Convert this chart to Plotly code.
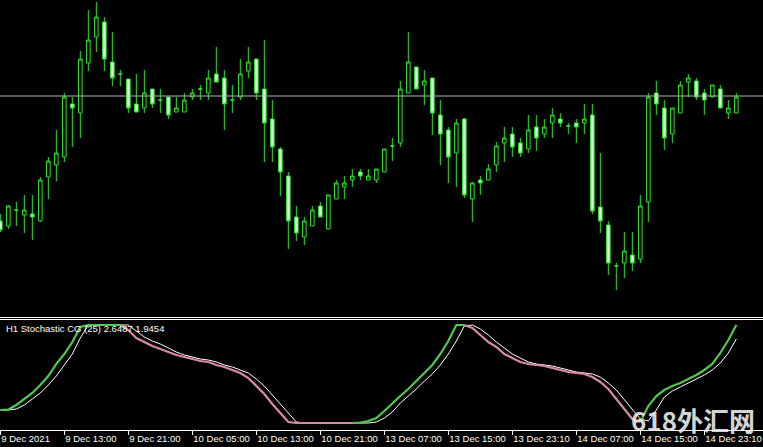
import plotly.graph_objects as go

# ---- data (H1 bars, price in points) ----
bar_index = list(range(93))
opens = [179,174,190,185,186,179,223,235,243,296,
         287,337,363,378,338,326,321,296,292,311,
         300,303,288,288,303,311,307,326,322,300,
         303,329,341,311,281,251,224,183,163,174,
         194,171,201,213,220,228,220,220,228,254,
         257,307,333,315,322,285,270,247,281,201,
         220,220,235,257,266,257,251,273,266,277,
         281,274,277,277,285,193,175,134,137,145,
         141,198,307,292,266,287,318,319,307,303,
         311,287,287]
highs = [186,195,198,205,205,223,243,270,307,303,
         349,390,398,383,368,330,321,326,330,311,
         311,303,303,307,311,315,330,353,330,315,
         341,353,341,360,300,253,228,194,183,194,
         198,205,220,224,231,231,231,231,251,262,
         319,368,333,330,322,300,273,281,282,218,
         224,236,258,273,273,262,285,285,281,292,
         287,277,281,296,296,247,179,137,168,168,
         205,307,319,300,292,319,326,322,311,315,
         315,300,307]
lows = [168,171,174,167,160,178,201,219,238,253,
        262,329,348,329,314,314,287,288,287,292,
        287,281,288,288,300,300,300,318,270,287,
        300,322,300,238,238,204,151,159,155,174,
        183,171,201,201,213,220,220,217,228,239,
        253,307,311,295,265,235,217,213,202,178,
        205,220,228,238,243,243,247,249,262,262,
        273,266,257,266,186,167,125,110,122,129,
        137,178,285,250,257,287,303,300,285,303,
        292,281,287]
closes = [170,194,190,190,183,220,239,247,303,292,
          341,360,383,341,322,326,292,288,307,296,
          300,285,292,300,307,311,322,318,296,300,
          326,338,307,277,253,228,179,167,179,190,
          183,205,217,217,224,224,224,231,251,254,
          311,338,311,319,287,266,243,277,205,217,
          217,231,254,262,253,247,270,262,273,285,
          277,274,273,281,189,179,137,134,149,137,
          194,303,296,262,292,315,322,303,300,315,
          292,292,303]
hline_level = 304

# Stochastic CG (25): main and signal
stoch_main = [13,13.5,18,24,30,38,47,59,69,81,
              96,98,98,98,98,98,93,85,81,77,
              74,71,68,66,64,62,61,58,56,53,
              50,45,37,29,19,10,1,0,0,0,
              0,0,0,0,0,0.5,2,5,12,20,
              27,34,42,49,58,69,82,98,98,95,
              88,81,76,69,65,61,59,58,57,55,
              53,51,50,49,46,41,34,24,14,4,
              1,17,27,33,37,40,44,48,53,59,
              70,83,98]
stoch_signal = [13,13,14,18,24,30,38,47,58,69,
                85,98,98,98,98,98,98,92,86,82,
                79,75,71,68,66,64,63,61,58,56,
                53,50,44,37,28,19,9,1,0,0,
                0,0,0,0,0,0,0,1,5,11,
                20,27,34,42,49,58,69,82,97,98,
                94,88,81,75,69,65,61,59,58,57,
                55,53,51,50,49,46,40,33,23,13,
                4,2,13,26,32,36,40,44,48,53,
                60,70,84]

tick_pos = [0, 8, 16, 24, 32, 40, 48, 56, 64, 72, 80, 88]
tick_labels = ["9 Dec 2021", "9 Dec 13:00", "9 Dec 21:00", "10 Dec 05:00",
               "10 Dec 13:00", "10 Dec 21:00", "13 Dec 07:00", "13 Dec 15:00",
               "13 Dec 23:10", "14 Dec 07:00", "14 Dec 15:00", "14 Dec 23:10"]

# ---- style ----
GREEN = "#30e030"
BEAR_FILL = "#e0ffe0"
LINE_GREEN = "#50c850"
LINE_PINK = "#d88aa0"
FONT = "Liberation Sans"

# direction state of the main line (rising -> green, falling -> pink)
state = []
for i, v in enumerate(stoch_main):
    if i == 0:
        state.append("up")
    elif v > stoch_main[i - 1]:
        state.append("up")
    elif v < stoch_main[i - 1]:
        state.append("down")
    else:
        state.append(state[-1])
n = len(stoch_main)
green_y = [v if (state[i] == "up" or (i + 1 < n and state[i + 1] == "up")) else None
           for i, v in enumerate(stoch_main)]
pink_y = [v if (state[i] == "down" or (i + 1 < n and state[i + 1] == "down")) else None
          for i, v in enumerate(stoch_main)]

fig = go.Figure()
fig.add_trace(go.Candlestick(
    x=bar_index, open=opens, high=highs, low=lows, close=closes,
    increasing=dict(line=dict(color=GREEN, width=1), fillcolor="#000000"),
    decreasing=dict(line=dict(color=GREEN, width=1), fillcolor=BEAR_FILL),
    whiskerwidth=0, xaxis="x", yaxis="y", hoverinfo="skip"))

fig.add_trace(go.Scatter(x=bar_index, y=stoch_signal, mode="lines",
                         line=dict(color="#ffffff", width=1),
                         xaxis="x2", yaxis="y2", hoverinfo="skip"))
fig.add_trace(go.Scatter(x=bar_index, y=green_y, mode="lines",
                         line=dict(color=LINE_GREEN, width=2.2),
                         xaxis="x2", yaxis="y2", connectgaps=False, hoverinfo="skip"))
fig.add_trace(go.Scatter(x=bar_index, y=pink_y, mode="lines",
                         line=dict(color=LINE_PINK, width=2.2),
                         xaxis="x2", yaxis="y2", connectgaps=False, hoverinfo="skip"))

xr = [-0.04, -0.04 + 763 / 8]
H_PLOT = 430.0
main_bottom = (H_PLOT - 316.5) / H_PLOT
ind_top = (H_PLOT - 319.5) / H_PLOT

fig.update_layout(
    width=763, height=447,
    margin=dict(l=0, r=0, t=0, b=17, autoexpand=False),
    paper_bgcolor="#000000", plot_bgcolor="#000000",
    showlegend=False,
    boxgap=0.36,
    xaxis=dict(domain=[0, 1], range=xr, anchor="y", showticklabels=False,
               showgrid=False, zeroline=False, showline=True, linecolor="#ffffff",
               linewidth=1, ticks="", automargin=False,
               rangeslider=dict(visible=False)),
    yaxis=dict(domain=[main_bottom, 1], range=[83.5, 400], visible=False,
               showgrid=False, zeroline=False, automargin=False),
    xaxis2=dict(domain=[0, 1], range=xr, anchor="y2", showgrid=False, zeroline=False,
                showline=True, mirror=True, linecolor="#ffffff", linewidth=1,
                ticks="outside", ticklen=4, tickcolor="#ffffff", tickwidth=1,
                tickvals=tick_pos, ticktext=tick_labels, tickangle=0,
                ticklabelposition="outside right", automargin=False,
                tickfont=dict(family=FONT, size=9.5, color="#ffffff")),
    yaxis2=dict(domain=[0, ind_top], range=[-7, 103.5], visible=False,
                showgrid=False, zeroline=False, automargin=False),
    shapes=[dict(type="line", xref="paper", x0=0, x1=1, yref="y",
                 y0=hline_level, y1=hline_level,
                 line=dict(color="#b4b4b4", width=1))],
    annotations=[
        dict(text="H1 Stochastic CG (25) 2.6487 1.9454", xref="paper", yref="paper",
             x=4 / 763, y=(H_PLOT - 328.5) / H_PLOT, xanchor="left", yanchor="middle",
             showarrow=False, font=dict(family=FONT, size=9.5, color="#ffffff")),
        dict(text="<b>618外汇网</b>", xref="paper", yref="paper",
             x=693 / 763, y=(H_PLOT - 419) / H_PLOT, xanchor="center", yanchor="middle",
             showarrow=False,
             font=dict(family="Noto Sans CJK SC", size=26, color="rgba(235,235,235,0.92)")),
    ],
)

fig.write_html("out.html", config={"displayModeBar": False},
               post_script="document.body.style.margin='0';document.body.style.overflow='hidden';")
